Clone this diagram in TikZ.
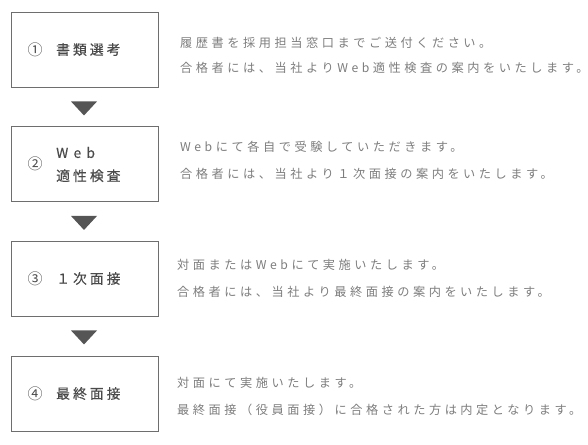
\documentclass[tikz,border=0pt]{standalone}
\usepackage{fontspec}
\usetikzlibrary{calc}
\newfontfamily\jpdesc[LetterSpace=29]{Noto Sans CJK JP}
\newfontfamily\jplab[LetterSpace=22,FakeBold=0.4]{Noto Sans CJK JP}
\newfontfamily\jplabweb[LetterSpace=38,FakeBold=0.4]{Noto Sans CJK JP}
\newfontfamily\jpcirc{Noto Sans CJK JP}
\definecolor{desccol}{HTML}{7D7D7D}
\definecolor{labcol}{HTML}{4A4A4A}
\definecolor{boxcol}{HTML}{6E6E6E}
\definecolor{tricol}{HTML}{555555}
\tikzset{
  stepbox/.style={draw=boxcol, line width=0.9pt, minimum width=147pt, minimum height=75pt, inner sep=0pt},
  circnum/.style={text=labcol, inner sep=0pt, font=\jpcirc\fontsize{15}{17}\selectfont},
  lab/.style={text=labcol, inner sep=0pt, anchor=west, align=left, font=\jplab\fontsize{13.8}{23}\selectfont},
  desc/.style={text=desccol, inner sep=0pt, anchor=west, font=\jpdesc\fontsize{12.2}{15}\selectfont},
  tri/.style={fill=tricol, draw=none}
}
\begin{document}
\begin{tikzpicture}[x=1pt,y=-1pt]
\useasboundingbox (0,0) rectangle (588,444);
% boxes
\node[stepbox] (b1) at (84.5,49.5) {};
\node[stepbox] (b2) at (84.5,164) {};
\node[stepbox] (b3) at (84.5,278.5) {};
\node[stepbox] (b4) at (84.5,393.5) {};
% labels
\node[circnum] (n1) at (35,49.5) {①};
\node[lab] (l1) at (56,49.5) {書類選考};
\node[circnum] (n2) at (35,164) {②};
\node[lab] (l2) at (56,164.5) {{\jplabweb Web}\\適性検査};
\node[circnum] (n3) at (35,278.5) {③};
\node[lab] (l3) at (56,278.5) {１次面接};
\node[circnum] (n4) at (35,393.5) {④};
\node[lab] (l4) at (56,393.5) {最終面接};
% triangles
\fill[tri] ($(b1.south)+(-13.5,14)$) -- ++(26,0) -- ++(-13,14) -- cycle;
\fill[tri] ($(b2.south)+(-13.5,14)$) -- ++(26,0) -- ++(-13,14) -- cycle;
\fill[tri] ($(b3.south)+(-13.5,14)$) -- ++(26,0) -- ++(-13,14) -- cycle;
% descriptions
\node[desc] (d1a) at (180,43) {履歴書を採用担当窓口までご送付ください。};
\node[desc] (d1b) at (180,68) {合格者には、当社よりWeb適性検査の案内をいたします。};
\node[desc] (d2a) at (180,147) {Webにて各自で受験していただきます。};
\node[desc] (d2b) at (180,173.5) {合格者には、当社より１次面接の案内をいたします。};
\node[desc] (d3a) at (177,265) {対面またはWebにて実施いたします。};
\node[desc] (d3b) at (177,291.5) {合格者には、当社より最終面接の案内をいたします。};
\node[desc] (d4a) at (177,382.5) {対面にて実施いたします。};
\node[desc] (d4b) at (177,409.5) {最終面接（役員面接）に合格された方は内定となります。};
\end{tikzpicture}
\end{document}
